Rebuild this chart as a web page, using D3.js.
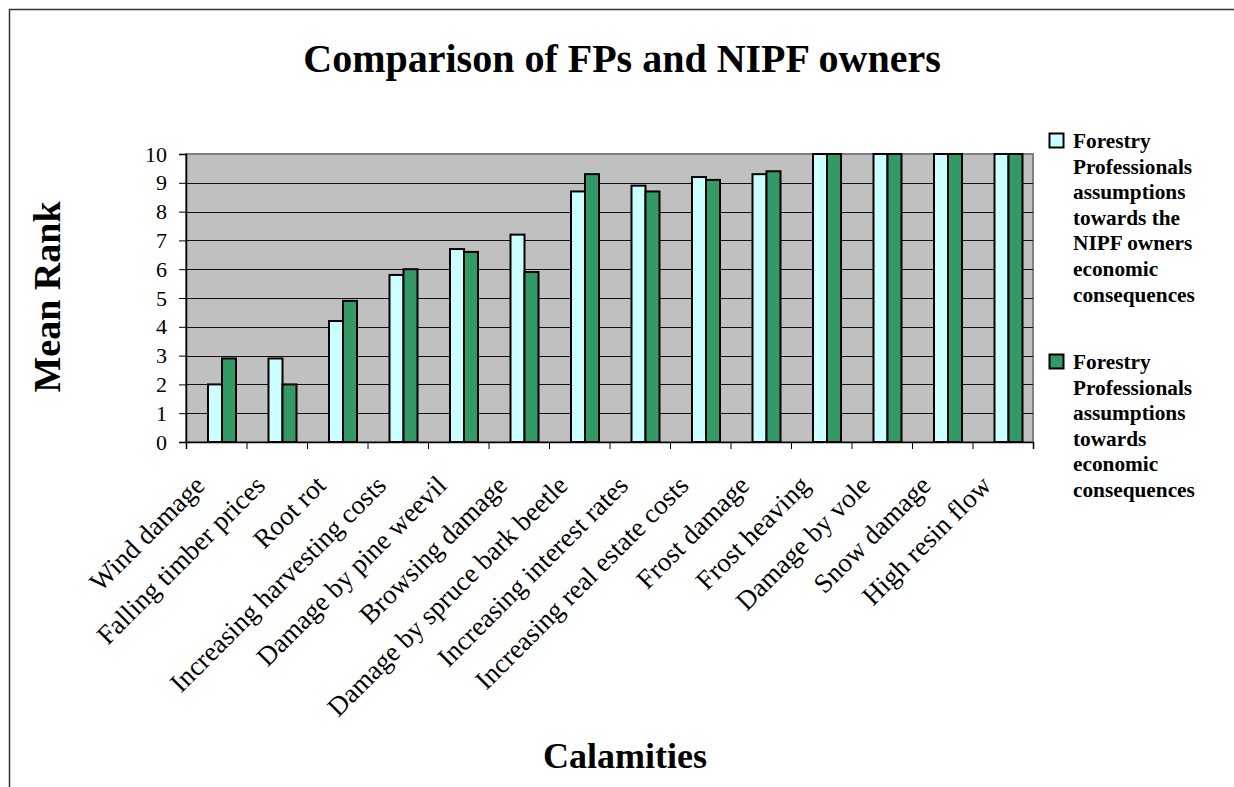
<!DOCTYPE html>
<html>
<head>
<meta charset="utf-8">
<script src="https://cdn.jsdelivr.net/npm/d3@7"></script>
<style>
  html, body { margin: 0; padding: 0; background: #fff; overflow: hidden; }
  svg { display: block; font-family: "Liberation Serif", "Times New Roman", serif; }
</style>
</head>
<body>
<svg id="chart" width="1234" height="787"></svg>
<script>
const categories = [
  'Wind damage', 'Falling timber prices', 'Root rot', 'Increasing harvesting costs',
  'Damage by pine weevil', 'Browsing damage', 'Damage by spruce bark beetle',
  'Increasing interest rates', 'Increasing real estate costs', 'Frost damage',
  'Frost heaving', 'Damage by vole', 'Snow damage', 'High resin flow'
];
const nipfValues = [2.0, 2.9, 4.2, 5.8, 6.7, 7.2, 8.7, 8.9, 9.2, 9.3, 10, 10, 10, 10];
const fpValues = [2.9, 2.0, 4.9, 6.0, 6.6, 5.9, 9.3, 8.7, 9.1, 9.4, 10, 10, 10, 10];
const seriesKeys = ['nipf', 'fp'];
const seriesColors = ['#ccffff', '#339966'];
const legendLines = [
  ['Forestry', 'Professionals', 'assumptions', 'towards the', 'NIPF owners', 'economic', 'consequences'],
  ['Forestry', 'Professionals', 'assumptions', 'towards', 'economic', 'consequences']
];
const yTicks = [0, 1, 2, 3, 4, 5, 6, 7, 8, 9, 10];

const PLOT = {left: 186, right: 1033, top: 154, bottom: 442};

const svg = d3.select('#chart');

// outer frame, runs off the right and bottom edge
svg.append('rect')
    .attr('x', 9.5).attr('y', 9.5)
    .attr('width', 1240).attr('height', 800)
    .attr('fill', 'none').attr('stroke', '#333').attr('stroke-width', 1.5);

// title
svg.append('text')
    .attr('x', 622).attr('y', 72)
    .attr('text-anchor', 'middle')
    .attr('font-size', 40).attr('font-weight', 'bold')
    .text('Comparison of FPs and NIPF owners');

const x0 = d3.scaleBand().domain(categories).range([PLOT.left, PLOT.right]);
const x1 = d3.scaleBand().domain(seriesKeys).range([22, 50]);
const xIdx = d3.scaleLinear().domain([0, categories.length]).range([PLOT.left, PLOT.right]);
const y = d3.scaleLinear().domain([0, 10]).range([PLOT.bottom, PLOT.top]);

// plot background
svg.append('rect')
    .attr('x', PLOT.left).attr('y', PLOT.top)
    .attr('width', PLOT.right - PLOT.left).attr('height', PLOT.bottom - PLOT.top)
    .attr('fill', '#c0c0c0')
    .attr('stroke', '#808080').attr('stroke-width', 2);

// gridlines
svg.append('g')
    .selectAll('line')
    .data(yTicks.filter(d => d > 0 && d < 10))
    .join('line')
    .attr('x1', PLOT.left).attr('x2', PLOT.right)
    .attr('y1', d => Math.round(y(d)) + 0.5).attr('y2', d => Math.round(y(d)) + 0.5)
    .attr('stroke', '#111').attr('stroke-width', 1);

// bars
const rows = categories.map((c, i) => ({cat: c, nipf: nipfValues[i], fp: fpValues[i]}));
svg.append('g')
    .selectAll('g')
    .data(rows)
    .join('g')
    .attr('transform', d => `translate(${x0(d.cat)},0)`)
    .selectAll('rect')
    .data(d => seriesKeys.map((k, j) => ({key: k, value: d[k], color: seriesColors[j]})))
    .join('rect')
    .attr('x', d => x1(d.key))
    .attr('y', d => y(d.value))
    .attr('width', x1.bandwidth())
    .attr('height', d => y(0) - y(d.value))
    .attr('fill', d => d.color)
    .attr('stroke', '#000').attr('stroke-width', 2);

// y axis
const yAxis = svg.append('g')
    .attr('transform', `translate(${PLOT.left},0)`)
    .call(d3.axisLeft(y).tickValues(yTicks).tickSize(7).tickPadding(12).tickFormat(d3.format('d')));
yAxis.selectAll('text').attr('font-size', 22).attr('fill', '#000')
    .attr('font-family', '"Liberation Serif", "Times New Roman", serif');
yAxis.selectAll('line').attr('stroke', '#000');
yAxis.select('.domain').attr('stroke', '#000').attr('stroke-width', 1.5);

// x axis (ticks between categories)
const xAxis = svg.append('g')
    .attr('transform', `translate(0,${PLOT.bottom})`)
    .call(d3.axisBottom(xIdx).tickValues(d3.range(categories.length + 1)).tickSize(7).tickFormat(''));
xAxis.selectAll('line').attr('stroke', '#000');
xAxis.select('.domain').attr('stroke', '#000').attr('stroke-width', 1.5);

// category labels
svg.append('g')
    .selectAll('text')
    .data(categories)
    .join('text')
    .attr('transform', d => `translate(${x0(d) + x0.bandwidth() / 2 - 10},487) rotate(-45)`)
    .attr('text-anchor', 'end')
    .attr('font-size', 27)
    .text(d => d);

// axis titles
svg.append('text')
    .attr('transform', 'translate(60,297) rotate(-90)')
    .attr('text-anchor', 'middle')
    .attr('font-size', 38).attr('font-weight', 'bold')
    .text('Mean Rank');

svg.append('text')
    .attr('x', 625).attr('y', 768)
    .attr('text-anchor', 'middle')
    .attr('font-size', 36).attr('font-weight', 'bold')
    .text('Calamities');

// legend
const legendTops = [133, 354];
const legend = svg.append('g');
legendLines.forEach((lines, i) => {
  legend.append('rect')
      .attr('x', 1049.5).attr('y', legendTops[i] + 0.5)
      .attr('width', 14).attr('height', 14)
      .attr('fill', seriesColors[i])
      .attr('stroke', '#000').attr('stroke-width', 2);
  const t = legend.append('text')
      .attr('x', 1073).attr('y', legendTops[i] + 15)
      .attr('font-size', 21.3).attr('font-weight', 'bold');
  t.selectAll('tspan')
      .data(lines)
      .join('tspan')
      .attr('x', 1073)
      .attr('dy', (d, k) => k === 0 ? 0 : 25.6)
      .text(d => d);
});
</script>
</body>
</html>
